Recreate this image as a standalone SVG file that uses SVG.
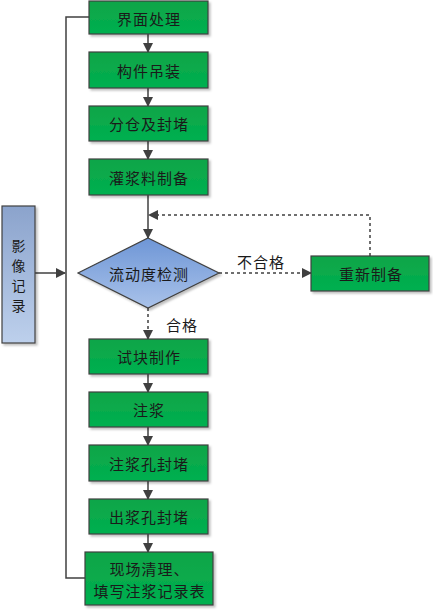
<svg xmlns="http://www.w3.org/2000/svg" width="433" height="610" viewBox="0 0 433 610">
<defs>
<linearGradient id="g" x1="0" y1="0" x2="0" y2="1"><stop offset="0" stop-color="#0FA548"/><stop offset="1" stop-color="#00B050"/></linearGradient>
<linearGradient id="b" x1="0" y1="0" x2="0" y2="1"><stop offset="0" stop-color="#8BA3CC"/><stop offset="1" stop-color="#BDD0EC"/></linearGradient>
<linearGradient id="d" x1="0" y1="0" x2="0" y2="1"><stop offset="0" stop-color="#6E96D6"/><stop offset="1" stop-color="#A9C2EA"/></linearGradient>
<marker id="a" markerWidth="10" markerHeight="10" refX="9" refY="5" orient="auto" markerUnits="userSpaceOnUse"><path d="M0,0 L10,5 L0,10 Z" fill="#404040"/></marker>
<filter id="s" x="-10%" y="-10%" width="130%" height="130%"><feDropShadow dx="2" dy="2" stdDeviation="1" flood-color="#000" flood-opacity="0.25"/></filter>
</defs>
<style>
.box{fill:url(#g);stroke:#404040;stroke-width:1.2;filter:url(#s)}
.t{font-family:"Noto Sans CJK SC",sans-serif;font-size:15px;letter-spacing:1px;fill:#1a1a1a;text-anchor:middle;dominant-baseline:central}
.v{font-size:14px;letter-spacing:0}
.c{stroke:#404040;stroke-width:1.5;fill:none}
.dash{stroke-dasharray:3,3}
</style>
<g id="connectors">
<path class="c" d="M89,17 H66 V578 H85"/>
<line class="c" x1="35" y1="273" x2="65" y2="273" marker-end="url(#a)"/>
<line class="c" x1="148" y1="34" x2="148" y2="52" marker-end="url(#a)"/>
<line class="c" x1="148" y1="88" x2="148" y2="106" marker-end="url(#a)"/>
<line class="c" x1="148" y1="141" x2="148" y2="159" marker-end="url(#a)"/>
<line class="c" x1="148" y1="195" x2="148" y2="238" marker-end="url(#a)"/>
<line class="c dash" x1="219" y1="273" x2="311" y2="273" marker-end="url(#a)"/>
<path class="c dash" d="M370,256 V215 H149" marker-end="url(#a)"/>
<line class="c dash" x1="148" y1="308" x2="148" y2="339" marker-end="url(#a)"/>
<line class="c" x1="148" y1="374" x2="148" y2="392" marker-end="url(#a)"/>
<line class="c" x1="148" y1="427" x2="148" y2="445" marker-end="url(#a)"/>
<line class="c" x1="148" y1="481" x2="148" y2="499" marker-end="url(#a)"/>
<line class="c" x1="148" y1="534" x2="148" y2="552" marker-end="url(#a)"/>
<text class="t" x="261" y="261">不合格</text>
<text class="t" x="182" y="324">合格</text>
</g>
<g id="n1"><rect class="box" x="89" y="1" width="119" height="33"/><text class="t" x="149" y="18">界面处理</text></g>
<g id="n2"><rect class="box" x="89" y="52" width="119" height="36"/><text class="t" x="149" y="70">构件吊装</text></g>
<g id="n3"><rect class="box" x="89" y="106" width="119" height="35"/><text class="t" x="149" y="123.5">分仓及封堵</text></g>
<g id="n4"><rect class="box" x="89" y="159" width="119" height="36"/><text class="t" x="149" y="177">灌浆料制备</text></g>
<g id="n5"><polygon points="148,238 219,273 148,308 78,273" fill="url(#d)" stroke="#404040" stroke-width="1.2" filter="url(#s)"/><text class="t" x="149" y="273">流动度检测</text></g>
<g id="n6"><rect class="box" x="311" y="256" width="118" height="35"/><text class="t" x="371" y="273.5">重新制备</text></g>
<g id="n7"><rect class="box" x="89" y="339" width="119" height="35"/><text class="t" x="149" y="356.5">试块制作</text></g>
<g id="n8"><rect class="box" x="89" y="392" width="119" height="35"/><text class="t" x="149" y="409.5">注浆</text></g>
<g id="n9"><rect class="box" x="89" y="445" width="119" height="36"/><text class="t" x="149" y="463">注浆孔封堵</text></g>
<g id="n10"><rect class="box" x="89" y="499" width="119" height="35"/><text class="t" x="149" y="516.5">出浆孔封堵</text></g>
<g id="n11"><rect class="box" x="85" y="552" width="128" height="53"/><text class="t" x="149.5" y="568">现场清理、</text><text class="t" x="149.5" y="590">填写注浆记录表</text></g>
<g id="n12"><rect x="2" y="206" width="33" height="137" fill="url(#b)" stroke="#404040" stroke-width="1.2" filter="url(#s)"/><text class="t v" x="18.5" y="245">影</text><text class="t v" x="18.5" y="265">像</text><text class="t v" x="18.5" y="285">记</text><text class="t v" x="18.5" y="305">录</text></g>
</svg>
